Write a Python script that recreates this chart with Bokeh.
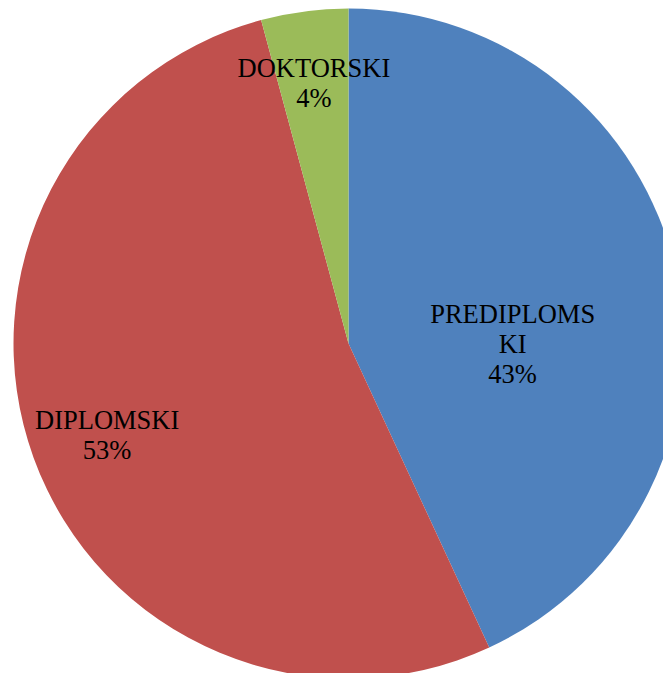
import math
from bokeh.plotting import figure
from bokeh.models import ColumnDataSource
from bokeh.core.properties import value
from bokeh.embed import file_html
from bokeh.resources import INLINE

# data
categories = ["PREDIPLOMSKI", "DIPLOMSKI", "DOKTORSKI"]
label_names = ["PREDIPLOMS\nKI", "DIPLOMSKI", "DOKTORSKI"]
shares = [43.1, 52.7, 4.2]
colors = ["#4F81BD", "#C0504D", "#9BBB59"]

# style / layout
W, H = 663, 673
cx, cy = 348, H - 343
R = 335
label_r_frac = [0.49, 0.77, 0.785]
label_angle_nudge = [-12.45, 0.7, 0.0]

total = sum(shares)
starts, ends, lx, ly, texts = [], [], [], [], []
acc = 0.0
for i, v in enumerate(shares):
    a0 = math.radians(90 - acc / total * 360)
    acc += v
    a1 = math.radians(90 - acc / total * 360)
    starts.append(a0)
    ends.append(a1)
    mid = (a0 + a1) / 2 + math.radians(label_angle_nudge[i])
    r = R * label_r_frac[i]
    lx.append(cx + r * math.cos(mid))
    ly.append(cy + r * math.sin(mid))
    texts.append(f"{label_names[i]}\n{round(v / total * 100)}%")

src = ColumnDataSource(dict(start=starts, end=ends, color=colors,
                            x=[cx] * 3, y=[cy] * 3))
lsrc = ColumnDataSource(dict(x=lx, y=ly, text=texts))

p = figure(width=W, height=H, x_range=(0, W), y_range=(0, H),
           output_backend="svg", toolbar_location=None,
           min_border=0, outline_line_color=None)
p.axis.visible = False
p.grid.visible = False
p.background_fill_color = "white"

p.wedge(x="x", y="y", radius=R, radius_units="screen",
        start_angle="start", end_angle="end", direction="clock",
        fill_color="color", line_color=None, source=src)

p.text(x="x", y="y", text="text", source=lsrc,
       text_font=value("Liberation Serif"), text_font_size="26.5px",
       text_align="center", text_baseline="middle",
       text_line_height=1.0, text_color="black")

open("out.html", "w").write(file_html(p, INLINE))
